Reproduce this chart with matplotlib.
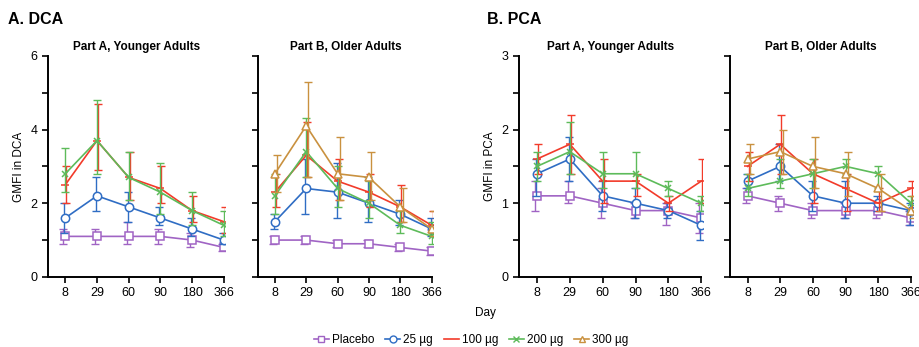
import matplotlib
matplotlib.use("Agg")
import matplotlib.pyplot as plt
from matplotlib.lines import Line2D

plt.rcParams['font.family'] = ['Liberation Sans', 'DejaVu Sans']

days = ["8", "29", "60", "90", "180", "366"]
groups = ["Placebo", "25 µg", "100 µg", "200 µg", "300 µg"]
colors = ["#A064C4", "#2F6DC4", "#F23B2A", "#5DBB5A", "#C9913F"]
markers = ["s", "o", "_", "x", "^"]

# DCA, younger adults (placebo, 25, 100, 200)
dca_young_gmfi = [[1.1, 1.1, 1.1, 1.1, 1.0, 0.8],
                  [1.6, 2.2, 1.9, 1.6, 1.3, 1.0],
                  [2.5, 3.7, 2.7, 2.4, 1.8, 1.5],
                  [2.8, 3.7, 2.7, 2.3, 1.8, 1.4]]
dca_young_lo = [[0.9, 0.9, 0.9, 0.9, 0.8, 0.7],
                [1.2, 1.8, 1.5, 1.4, 1.1, 0.9],
                [2.0, 2.9, 2.1, 2.0, 1.5, 1.2],
                [2.3, 2.8, 2.1, 1.7, 1.4, 1.1]]
dca_young_hi = [[1.3, 1.3, 1.5, 1.3, 1.2, 0.9],
                [2.0, 2.7, 2.3, 1.9, 1.6, 1.2],
                [3.0, 4.7, 3.4, 3.0, 2.2, 1.9],
                [3.5, 4.8, 3.4, 3.1, 2.3, 1.8]]

# DCA, older adults (placebo, 25, 100, 200, 300)
dca_old_gmfi = [[1.0, 1.0, 0.9, 0.9, 0.8, 0.7],
                [1.5, 2.4, 2.3, 2.0, 1.7, 1.3],
                [2.3, 3.3, 2.6, 2.3, 1.9, 1.4],
                [2.2, 3.4, 2.4, 2.0, 1.4, 1.1],
                [2.8, 4.1, 2.8, 2.7, 1.9, 1.3]]
dca_old_lo = [[0.9, 0.9, 0.8, 0.8, 0.7, 0.6],
              [1.3, 1.7, 1.6, 1.5, 1.4, 1.1],
              [1.9, 2.7, 2.1, 1.9, 1.5, 1.1],
              [1.7, 2.7, 1.9, 1.6, 1.2, 0.9],
              [2.3, 2.7, 2.1, 2.1, 1.5, 1.1]]
dca_old_hi = [[1.1, 1.1, 1.0, 1.0, 0.9, 0.8],
              [1.7, 3.2, 3.1, 2.7, 2.1, 1.6],
              [2.8, 4.2, 3.2, 2.8, 2.5, 1.8],
              [2.8, 4.3, 3.0, 2.6, 1.8, 1.5],
              [3.3, 5.3, 3.8, 3.4, 2.4, 1.8]]

# PCA, younger adults (placebo, 25, 100, 200)
pca_young_gmfi = [[1.1, 1.1, 1.0, 0.9, 0.9, 0.8],
                  [1.4, 1.6, 1.1, 1.0, 0.9, 0.7],
                  [1.6, 1.8, 1.3, 1.3, 1.0, 1.3],
                  [1.5, 1.7, 1.4, 1.4, 1.2, 1.0]]
pca_young_lo = [[0.9, 1.0, 0.8, 0.8, 0.7, 0.6],
                [1.1, 1.3, 0.9, 0.8, 0.8, 0.5],
                [1.4, 1.4, 1.0, 1.1, 0.9, 1.0],
                [1.3, 1.4, 1.2, 1.2, 1.1, 0.9]]
pca_young_hi = [[1.3, 1.3, 1.2, 1.0, 1.0, 1.0],
                [1.6, 1.9, 1.3, 1.2, 1.0, 0.9],
                [1.8, 2.2, 1.6, 1.4, 1.1, 1.6],
                [1.7, 2.1, 1.7, 1.7, 1.3, 1.1]]

# PCA, older adults (placebo, 25, 100, 200, 300)
pca_old_gmfi = [[1.1, 1.0, 0.9, 0.9, 0.9, 0.8],
                [1.3, 1.5, 1.1, 1.0, 1.0, 0.9],
                [1.5, 1.8, 1.4, 1.2, 1.0, 1.2],
                [1.2, 1.3, 1.4, 1.5, 1.4, 1.0],
                [1.6, 1.7, 1.5, 1.4, 1.2, 0.9]]
pca_old_lo = [[1.0, 0.9, 0.8, 0.8, 0.8, 0.7],
              [1.2, 1.3, 0.9, 0.8, 0.9, 0.7],
              [1.3, 1.4, 1.0, 0.9, 0.9, 0.9],
              [1.1, 1.2, 1.2, 1.4, 1.2, 0.9],
              [1.4, 1.4, 1.2, 1.1, 0.9, 0.8]]
pca_old_hi = [[1.2, 1.1, 1.0, 1.0, 1.0, 0.9],
              [1.4, 1.8, 1.3, 1.3, 1.1, 1.0],
              [1.7, 2.2, 1.6, 1.4, 1.2, 1.3],
              [1.4, 1.6, 1.6, 1.6, 1.5, 1.1],
              [1.8, 2.0, 1.9, 1.7, 1.4, 1.1]]

fig = plt.figure(figsize=(9.2, 3.47), dpi=100)

bottom = 0.202
height = 0.637
panels = [
    ([0.052, bottom, 0.193, height], dca_young_gmfi, dca_young_lo, dca_young_hi, "Part A, Younger Adults", 6, "GMFI in DCA"),
    ([0.280, bottom, 0.191, height], dca_old_gmfi, dca_old_lo, dca_old_hi, "Part B, Older Adults", 6, None),
    ([0.564, bottom, 0.200, height], pca_young_gmfi, pca_young_lo, pca_young_hi, "Part A, Younger Adults", 3, "GMFI in PCA"),
    ([0.793, bottom, 0.199, height], pca_old_gmfi, pca_old_lo, pca_old_hi, "Part B, Older Adults", 3, None),
]
dodge = [-0.06, -0.03, 0.03, 0.0, 0.07]

for rect, gm, lo, hi, title, ymax, ylab in panels:
    ax = fig.add_axes(rect)
    x = list(range(len(days)))
    for i in range(len(gm)):
        c = colors[i]
        xe = [v + dodge[i] for v in x]
        yerr = [[g - l for g, l in zip(gm[i], lo[i])], [h - g for g, h in zip(gm[i], hi[i])]]
        ax.errorbar(xe, gm[i], yerr=yerr, fmt="none", ecolor=c, elinewidth=1.0, capsize=3, capthick=1.0)
        ax.plot(x, gm[i], color=c, lw=1.2, marker=markers[i], ms=6 if markers[i] != "x" else 5,
                mfc="white" if markers[i] not in ("x", "_") else c, mec=c, mew=1.1)
    ax.set_xlim(-0.55, 5.05)
    ax.set_ylim(0, ymax)
    ax.set_xticks(x)
    ax.set_xticklabels(days, fontsize=9)
    if ymax == 6:
        ax.set_yticks([0, 2, 4, 6])
        ax.set_yticks([1, 3, 5], minor=True)
    else:
        ax.set_yticks([0, 1, 2, 3])
        ax.set_yticks([0.5, 1.5, 2.5], minor=True)
    if ylab:
        ax.set_ylabel(ylab, fontsize=8.5)
        ax.tick_params(axis="y", labelsize=9)
    else:
        ax.tick_params(axis="y", labelleft=False)
    for s in ["top", "right"]:
        ax.spines[s].set_visible(False)
    for s in ["left", "bottom"]:
        ax.spines[s].set_linewidth(1.4)
    ax.spines["bottom"].set_bounds(-0.55, 5)
    ax.tick_params(which="major", length=4, width=1.2, direction="out")
    ax.tick_params(which="minor", length=4, width=1.2, direction="out")
    ax.set_title(title, fontsize=8.5, fontweight="bold", pad=4)

fig.text(0.009, 0.945, "A. DCA", fontsize=11.5, fontweight="bold", va="center")
fig.text(0.529, 0.945, "B. PCA", fontsize=11.5, fontweight="bold", va="center")
fig.text(0.516, 0.098, "Day", fontsize=8.5, va="center")

handles = []
for i, g in enumerate(groups):
    handles.append(Line2D([], [], color=colors[i], lw=1.2, marker=markers[i] if markers[i] != "_" else None,
                          ms=5, mfc="white" if markers[i] != "x" else colors[i], mec=colors[i], label=g))
fig.legend(handles=handles, loc="center", bbox_to_anchor=(0.512, 0.02), ncol=5, frameon=False,
           fontsize=8.5, handlelength=1.3, handletextpad=0.25, columnspacing=0.9,
           borderpad=0.1)

fig.savefig("out.png", dpi=100)
